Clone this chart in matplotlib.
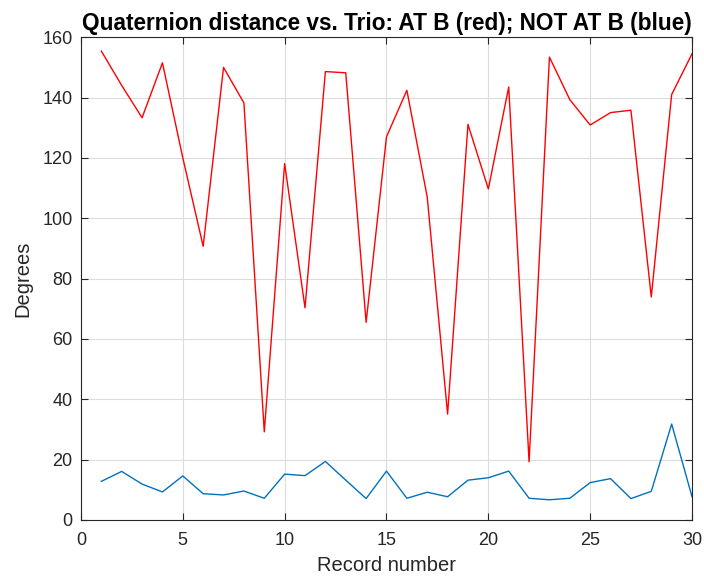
import numpy as np
import matplotlib
matplotlib.use('Agg')
import matplotlib.pyplot as plt

plt.rcParams['font.family'] = ['Liberation Sans', 'DejaVu Sans']

# record numbers and distances (degrees)
records = np.arange(1, 31)
at_b = [155.4, 144, 133.3, 151.5, 120, 90.7, 150, 138.2, 29.2, 118.1,
        70.3, 148.6, 148.2, 65.5, 127, 142.4, 107, 35.1, 131.1, 109.7,
        143.5, 19.3, 153.4, 139.3, 130.9, 135, 135.8, 73.9, 141, 154.5]
not_at_b = [12.8, 16.1, 11.9, 9.3, 14.6, 8.7, 8.3, 9.6, 7.2, 15.2,
            14.7, 19.4, 13.2, 7.1, 16.2, 7.2, 9.2, 7.7, 13.2, 14.0,
            16.2, 7.2, 6.7, 7.2, 12.4, 13.7, 7.1, 9.5, 31.8, 7.7]

axcol = '#262626'

fig = plt.figure(figsize=(7.04, 5.81), dpi=100)
ax = fig.add_axes([0.115, 0.105, 0.868, 0.831])

ax.plot(records, at_b, color='#ff0000', lw=1.0)
ax.plot(records, not_at_b, color='#0072bd', lw=1.0)

ax.set_xlim(0, 30)
ax.set_ylim(0, 160)
ax.set_xticks(np.arange(0, 31, 5))
ax.set_yticks(np.arange(0, 161, 20))
ax.grid(True, color='#dcdcdc', lw=0.8)
ax.set_axisbelow(True)

ax.tick_params(direction='in', top=True, right=True, length=5, width=0.8,
               labelsize=13, colors=axcol)
ax.tick_params(axis='x', pad=9)
ax.tick_params(axis='y', pad=6)
for s in ax.spines.values():
    s.set_color(axcol)
    s.set_linewidth(0.8)

ax.set_xlabel('Record number', fontsize=14.5, color=axcol, labelpad=5)
ax.set_ylabel('Degrees', fontsize=14.5, color=axcol, labelpad=7)
ax.set_title('Quaternion distance vs. Trio: AT B (red); NOT AT B (blue)',
             fontsize=16.3, fontweight='bold', color='black', pad=5)

fig.savefig('out.png', dpi=100, facecolor='white')
